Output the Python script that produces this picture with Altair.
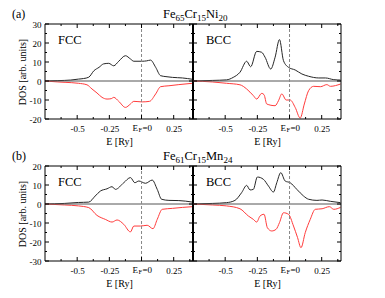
import altair as alt
import pandas as pd

# ---------------- data ----------------
# (a) Fe65Cr15Ni20, FCC
A_FCC_UP_E = [-0.75, -0.65, -0.55, -0.49, -0.45, -0.41, -0.37, -0.33, -0.295, -0.255, -0.216, -0.177, -0.125, -0.086, -0.06, 0.005, 0.04, 0.07, 0.11, 0.148, 0.19, 0.24, 0.318, 0.396]
A_FCC_UP_V = [0.0, 0.2, 0.5, 1.0, 1.3, 2.0, 5.4, 7.2, 9.0, 9.3, 8.0, 10.4, 13.3, 11.6, 10.4, 10.4, 10.6, 11.0, 7.2, 2.8, 2.3, 1.9, 1.6, 0.9]
A_FCC_DN_E = [-0.75, -0.65, -0.594, -0.49, -0.424, -0.385, -0.346, -0.307, -0.268, -0.235, -0.216, -0.177, -0.125, -0.086, -0.06, 0.005, 0.0625, 0.11, 0.148, 0.213, 0.29, 0.396]
A_FCC_DN_V = [0.0, -0.5, -0.7, -1.2, -2.0, -4.2, -6.3, -8.6, -9.5, -9.3, -8.6, -10.7, -13.9, -12.1, -10.7, -11.0, -10.7, -6.8, -3.0, -2.5, -1.9, -1.2]
# (a) BCC
A_BCC_UP_E = [-0.75, -0.6, -0.49, -0.4375, -0.385, -0.333, -0.302, -0.255, -0.216, -0.19, -0.146, -0.112, -0.078, -0.047, -0.008, 0.044, 0.096, 0.148, 0.227, 0.279, 0.344, 0.396]
A_BCC_UP_V = [0.0, 0.3, 0.6, 1.9, 4.6, 10.4, 7.5, 15.6, 15.1, 12.5, 6.3, 12.5, 21.8, 10.7, 7.2, 5.8, 3.7, 2.5, 1.6, 1.6, 0.7, 0.5]
A_BCC_DN_E = [-0.75, -0.6, -0.49, -0.385, -0.333, -0.281, -0.255, -0.216, -0.198, -0.177, -0.112, -0.086, -0.06, -0.026, 0.005, 0.044, 0.083, 0.115, 0.148, 0.1875, 0.24, 0.29, 0.318, 0.396]
A_BCC_DN_V = [0.0, -0.5, -1.2, -2.0, -4.2, -7.7, -9.5, -6.5, -7.2, -12.1, -13.0, -10.4, -6.8, -10.0, -10.0, -13.9, -19.5, -12.1, -5.1, -2.8, -3.0, -1.9, -2.8, -1.6]
# (b) Fe61Cr15Mn24, FCC
B_FCC_UP_E = [-0.75, -0.6, -0.49, -0.41, -0.36, -0.32, -0.268, -0.229, -0.203, -0.138, -0.086, -0.052, -0.021, 0.031, 0.083, 0.122, 0.156, 0.213, 0.29, 0.396]
B_FCC_UP_V = [0.0, 0.3, 0.8, 1.0, 4.2, 6.8, 8.0, 9.1, 7.7, 11.2, 13.9, 11.2, 12.1, 10.9, 12.6, 7.7, 2.5, 1.9, 1.8, 1.0]
B_FCC_DN_E = [-0.75, -0.6, -0.49, -0.41, -0.346, -0.281, -0.229, -0.19, -0.138, -0.086, -0.06, -0.008, 0.044, 0.089, 0.122, 0.161, 0.24, 0.318, 0.396]
B_FCC_DN_V = [0.0, -0.5, -1.0, -1.9, -6.0, -8.1, -9.5, -8.4, -10.7, -14.7, -11.6, -11.6, -11.2, -13.0, -8.1, -2.8, -2.3, -1.8, -1.4]
# (b) BCC
B_BCC_UP_E = [-0.75, -0.6, -0.49, -0.424, -0.372, -0.333, -0.307, -0.281, -0.25, -0.203, -0.164, -0.125, -0.099, -0.068, -0.034, 0.005, 0.057, 0.109, 0.148, 0.213, 0.253, 0.318, 0.396]
B_BCC_UP_V = [0.0, 0.3, 0.7, 1.9, 6.0, 9.8, 7.4, 7.7, 14.2, 13.0, 9.5, 6.3, 11.2, 16.5, 12.1, 11.2, 7.7, 4.2, 2.5, 1.9, 2.1, 1.4, 0.7]
B_BCC_DN_E = [-0.75, -0.6, -0.49, -0.385, -0.32, -0.281, -0.255, -0.229, -0.198, -0.172, -0.138, -0.104, -0.078, -0.047, -0.008, 0.031, 0.0625, 0.089, 0.122, 0.161, 0.2, 0.253, 0.31, 0.344, 0.396]
B_BCC_DN_V = [0.0, -0.5, -1.0, -2.5, -6.3, -8.1, -9.5, -6.3, -5.4, -12.5, -14.2, -13.3, -9.8, -4.6, -5.4, -11.6, -17.7, -23.0, -15.1, -8.1, -2.8, -2.5, -1.4, -2.8, -1.8]

X_MAJOR = [-0.5, -0.25, 0.0, 0.25]
X_MINOR = [-0.625, -0.375, -0.125, 0.125, 0.375]
Y_MAJOR_A = [-20, -10, 0, 10, 20, 30]
Y_MINOR_A = [-15, -5, 5, 15, 25]
Y_MAJOR_B = [-30, -20, -10, 0, 10, 20]
Y_MINOR_B = [-25, -15, -5, 5, 15]
Y_DOM_A = [-20, 30]
Y_DOM_B = [-30, 20]
X_DOM = [-0.75, 0.4]
E_FERMI = [0.0]
ZERO = [0.0]

# ---------------- styling ----------------
W, H = 148, 95
FONT = "Liberation Serif"
MAJ, MIN = 4, 2


def txt(s, x, y, size, align="left", baseline="alphabetic"):
    return alt.Chart(pd.DataFrame({"t": [s]})).mark_text(
        text=s, font=FONT, fontSize=size, color="black", align=align, baseline=baseline
    ).encode(x=alt.value(x), y=alt.value(y))


def panel(kind, ue, uv, de, dv, ydom, ymaj, ymin, left, extra):
    xs = alt.Scale(domain=X_DOM, nice=False, zero=False)
    ys = alt.Scale(domain=ydom, nice=False, zero=False)
    df = pd.concat([pd.DataFrame({"E": ue, "DOS": uv, "s": "up"}),
                    pd.DataFrame({"E": de, "DOS": dv, "s": "dn"})], ignore_index=True)
    xaxis = alt.Axis(values=X_MAJOR, labelExpr="datum.value == 0 ? '' : toString(datum.value)",
                     ticks=False, domain=False, grid=False, title="E [Ry]",
                     labelFont=FONT, labelFontSize=9, labelColor="black", labelPadding=5,
                     labelFlush=False, labelOverlap=False,
                     titleFont=FONT, titleFontSize=10, titleFontWeight="normal",
                     titleColor="black", titlePadding=3)
    if left:
        yaxis = alt.Axis(values=ymaj, labelExpr="toString(datum.value)", ticks=False, domain=False,
                         grid=False, title="DOS [arb. units]", labelFont=FONT, labelFontSize=9,
                         labelColor="black", labelPadding=4, labelFlush=False, labelOverlap=False,
                         titleFont=FONT, titleFontSize=10, titleFontWeight="normal",
                         titleColor="black", titlePadding=2)
    else:
        yaxis = None

    def X(f="E:Q"):
        return alt.X(f, scale=xs, axis=xaxis)

    def Y(f="DOS:Q"):
        return alt.Y(f, scale=ys, axis=yaxis)

    lines = alt.Chart(df).mark_line(strokeWidth=1, interpolate="monotone").encode(
        x=X(), y=Y(),
        color=alt.Color("s:N", scale=alt.Scale(domain=["up", "dn"], range=["#262626", "#ff3b3b"]), legend=None),
        detail="s:N",
    )
    zero = alt.Chart(pd.DataFrame({"DOS": ZERO})).mark_rule(color="#555555", strokeWidth=1).encode(y=Y())
    ef = alt.Chart(pd.DataFrame({"E": E_FERMI})).mark_rule(
        color="#888888", strokeWidth=1, strokeDash=[3, 2]).encode(x=X())
    frame = alt.Chart(pd.DataFrame({"k": [0]})).mark_rect(
        filled=False, stroke="black", strokeWidth=1).encode(
        x=alt.value(0), x2=alt.value(W), y=alt.value(0), y2=alt.value(H))

    layers = [lines, zero, ef]
    for vals, ln in [(ymaj, MAJ), (ymin, MIN)]:
        d = pd.DataFrame({"DOS": vals})
        layers.append(alt.Chart(d).mark_rule(color="black", strokeWidth=1).encode(
            y=Y(), x=alt.value(0), x2=alt.value(ln)))
        layers.append(alt.Chart(d).mark_rule(color="black", strokeWidth=1).encode(
            y=Y(), x=alt.value(W - ln), x2=alt.value(W)))
    for vals, ln in [(X_MAJOR, MAJ), (X_MINOR, MIN)]:
        d = pd.DataFrame({"E": vals})
        layers.append(alt.Chart(d).mark_rule(color="black", strokeWidth=1).encode(
            x=X(), y=alt.value(0), y2=alt.value(ln)))
        layers.append(alt.Chart(d).mark_rule(color="black", strokeWidth=1).encode(
            x=X(), y=alt.value(H - ln), y2=alt.value(H)))
    # E_F=0 label
    for s, dx, dy, fs in [("E", -9, 0, 9), ("F", -3, 3, 6.5), ("=0", 1, 0, 9)]:
        layers.append(alt.Chart(pd.DataFrame({"E": E_FERMI})).mark_text(
            text=s, font=FONT, fontSize=fs, color="black", align="left", baseline="top", dx=dx, dy=dy
        ).encode(x=X(), y=alt.value(H + 5)))
    layers.append(frame)
    if left:
        # heavier shared border between the two panels
        layers.append(alt.Chart(pd.DataFrame({"k": [0]})).mark_rule(color="black", strokeWidth=2).encode(
            x=alt.value(W), y=alt.value(0), y2=alt.value(H)))
    layers.append(txt(kind, 13, 20, 12.5))
    layers += extra
    return alt.layer(*layers).properties(width=W, height=H)


def title_parts(parts):
    out = []
    for s, x, sub in parts:
        if sub:
            out.append(txt(s, x, -3, 9))
        else:
            out.append(txt(s, x, -6, 12.5))
    return out


title_a = title_parts([("Fe", -30, False), ("65", -17.5, True), ("Cr", -8.5, False),
                       ("15", 4, True), ("Ni", 13, False), ("20", 25.5, True)])
title_b = title_parts([("Fe", -30, False), ("61", -17.5, True), ("Cr", -8.5, False),
                       ("15", 4, True), ("Mn", 13, False), ("24", 30.4, True)])

pa1 = panel("FCC", A_FCC_UP_E, A_FCC_UP_V, A_FCC_DN_E, A_FCC_DN_V, Y_DOM_A, Y_MAJOR_A, Y_MINOR_A, True,
            [txt("(a)", -33, -6, 12)])
pa2 = panel("BCC", A_BCC_UP_E, A_BCC_UP_V, A_BCC_DN_E, A_BCC_DN_V, Y_DOM_A, Y_MAJOR_A, Y_MINOR_A, False, title_a)
pb1 = panel("FCC", B_FCC_UP_E, B_FCC_UP_V, B_FCC_DN_E, B_FCC_DN_V, Y_DOM_B, Y_MAJOR_B, Y_MINOR_B, True,
            [txt("(b)", -33, -6, 12)])
pb2 = panel("BCC", B_BCC_UP_E, B_BCC_UP_V, B_BCC_DN_E, B_BCC_DN_V, Y_DOM_B, Y_MAJOR_B, Y_MINOR_B, False, title_b)

chart = alt.concat(pa1, pa2, pb1, pb2, columns=2,
                   spacing=alt.RowColnumber(row=47, column=0), bounds="flush").properties(
    padding={"left": 4, "top": 0, "right": 2, "bottom": 2}, background="white"
).configure_view(strokeWidth=0)

chart.save("out.html", embed_options={"renderer": "svg", "actions": False})
